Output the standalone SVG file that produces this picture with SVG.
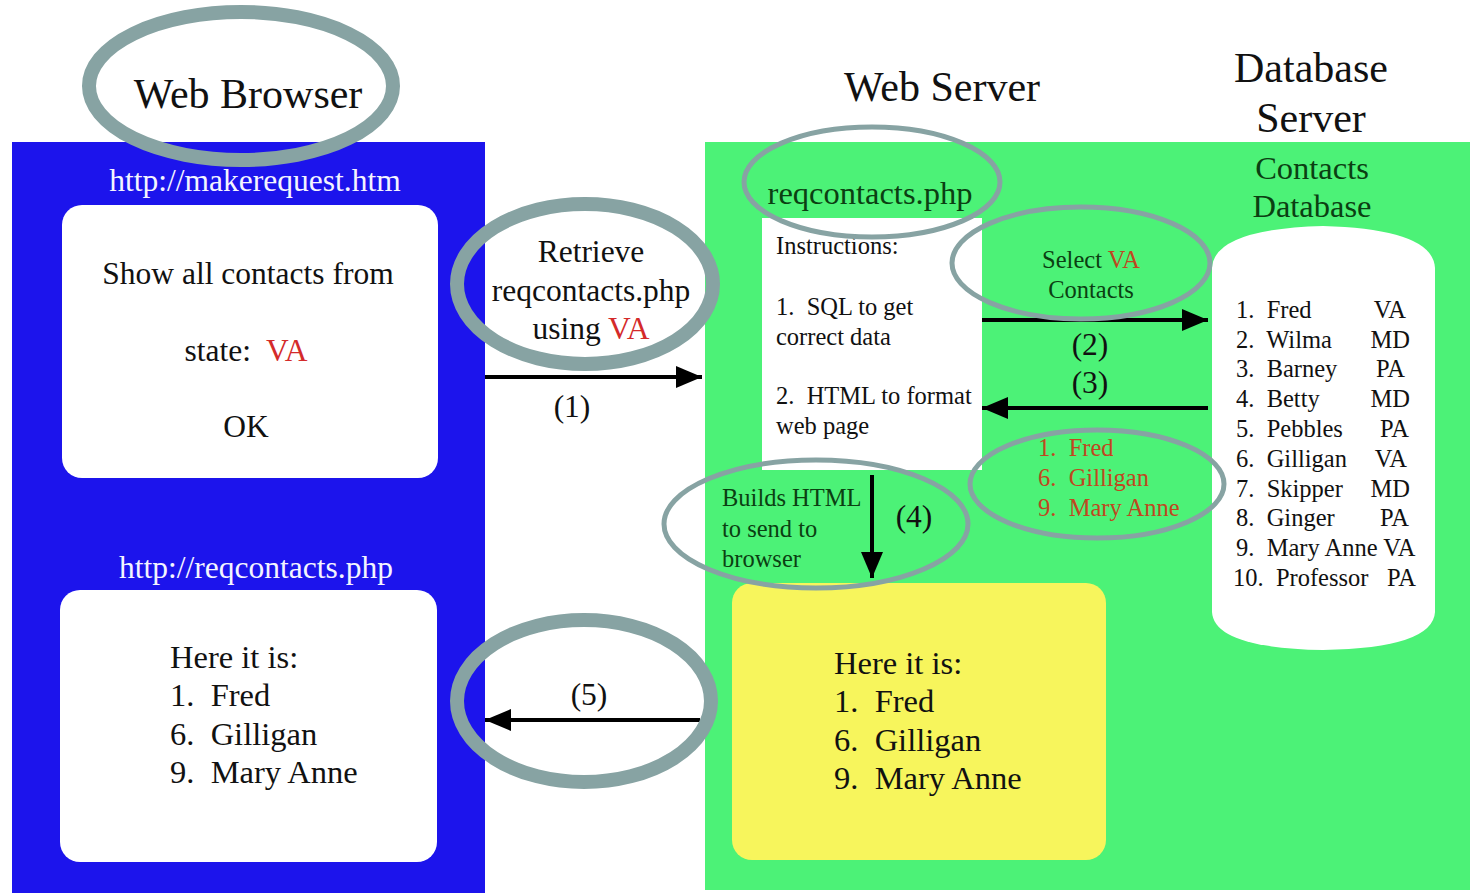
<svg xmlns="http://www.w3.org/2000/svg" width="1472" height="893" viewBox="0 0 1472 893">
<style>
text{font-family:"Liberation Serif","Times New Roman",serif;fill:#111}
.t40{font-size:42px}
.t30{font-size:32.5px}
.t29{font-size:31.5px}
.t23{font-size:24.5px}
.wh{fill:#f4f4ff}
.dg{fill:#0b3f12}
.red{fill:#d42a2a}
.or{fill:#c0471f}
.c{text-anchor:middle}
.ring{fill:none;stroke:#87a3a3}
.thick{stroke-width:14}
.thin{stroke-width:5}
.arr{stroke:#000;stroke-width:4;fill:none}
</style>
<defs>
<marker id="ah" viewBox="0 0 26 22" refX="26" refY="11" markerWidth="26" markerHeight="22" markerUnits="userSpaceOnUse" orient="auto">
<path d="M0,0 L26,11 L0,22 Z" fill="#000"/>
</marker>
</defs>
<rect width="1472" height="893" fill="#fff"/>

<g id="browser-panel">
<rect x="12" y="142" width="473" height="751" fill="#1c14ec"/>
<text class="t29 wh c" x="255" y="191">http://makerequest.htm</text>
<text class="t29 wh c" x="256" y="578">http://reqcontacts.php</text>
</g>
<g id="request-page">
<rect x="62" y="205" width="376" height="273" rx="20" fill="#fff"/>
<text class="t29 c" x="248" y="284">Show all contacts from</text>
<text class="t29 c" x="246" y="361">state:&#160; <tspan class="red">VA</tspan></text>
<text class="t29 c" x="246" y="437">OK</text>
</g>
<g id="result-page">
<rect x="60" y="590" width="377" height="272" rx="20" fill="#fff"/>
<text class="t30" x="170" y="668">Here it is:</text>
<text class="t30" x="170" y="706">1.&#160; Fred</text>
<text class="t30" x="170" y="745">6.&#160; Gilligan</text>
<text class="t30" x="170" y="783">9.&#160; Mary Anne</text>
</g>

<g id="server-panel">
<rect x="705" y="142" width="765" height="748" fill="#4cf277"/>
</g>
<g id="titles">
<text class="t40 c" x="942" y="101">Web Server</text>
<text class="t40 c" x="1311" y="82">Database</text>
<text class="t40 c" x="1311" y="132">Server</text>
<text class="t30 dg c" x="1312" y="179">Contacts</text>
<text class="t30 dg c" x="1312" y="217">Database</text>
</g>
<g id="php-label">
<text class="t30 dg c" x="870" y="204">reqcontacts.php</text>
</g>
<g id="instructions">
<rect x="762" y="218" width="220" height="252" fill="#fff"/>
<text class="t23" x="776" y="254">Instructions:</text>
<text class="t23" x="776" y="315">1.&#160; SQL to get</text>
<text class="t23" x="776" y="345">correct data</text>
<text class="t23" x="776" y="404">2.&#160; HTML to format</text>
<text class="t23" x="776" y="434">web page</text>
</g>
<g id="select-label">
<text class="t23 dg c" x="1091" y="268">Select <tspan class="or">VA</tspan></text>
<text class="t23 dg c" x="1091" y="298">Contacts</text>
</g>
<g id="selected-list">
<text class="t23 or" x="1038" y="456">1.&#160; Fred</text>
<text class="t23 or" x="1038" y="486">6.&#160; Gilligan</text>
<text class="t23 or" x="1038" y="516">9.&#160; Mary Anne</text>
</g>
<g id="builds-label">
<text class="t23 dg" x="722" y="506">Builds HTML</text>
<text class="t23 dg" x="722" y="537">to send to</text>
<text class="t23 dg" x="722" y="567">browser</text>
</g>
<g id="database">
<path d="M1212,268 Q1214,229 1323,226 Q1433,229 1435,268 L1435,612 Q1433,648 1323,650 Q1214,648 1212,612 Z" fill="#fff"/>
<g class="t23">
<text x="1236" y="318">1.&#160; Fred</text><text x="1406" y="318" text-anchor="end">VA</text>
<text x="1236" y="348">2.&#160; Wilma</text><text x="1410" y="348" text-anchor="end">MD</text>
<text x="1236" y="377">3.&#160; Barney</text><text x="1405" y="377" text-anchor="end">PA</text>
<text x="1236" y="407">4.&#160; Betty</text><text x="1410" y="407" text-anchor="end">MD</text>
<text x="1236" y="437">5.&#160; Pebbles</text><text x="1409" y="437" text-anchor="end">PA</text>
<text x="1236" y="467">6.&#160; Gilligan</text><text x="1407" y="467" text-anchor="end">VA</text>
<text x="1236" y="497">7.&#160; Skipper</text><text x="1410" y="497" text-anchor="end">MD</text>
<text x="1236" y="526">8.&#160; Ginger</text><text x="1409" y="526" text-anchor="end">PA</text>
<text x="1236" y="556">9.&#160; Mary Anne VA</text>
<text x="1233" y="586">10.&#160; Professor</text><text x="1416" y="586" text-anchor="end">PA</text>
</g>
</g>
<g id="output-page">
<rect x="732" y="583" width="374" height="277" rx="20" fill="#f7f55c"/>
<text class="t30" x="834" y="674">Here it is:</text>
<text class="t30" x="834" y="712">1.&#160; Fred</text>
<text class="t30" x="834" y="751">6.&#160; Gilligan</text>
<text class="t30" x="834" y="789">9.&#160; Mary Anne</text>
</g>
<g id="retrieve-label">
<text class="t29 c" x="591" y="262">Retrieve</text>
<text class="t29 c" x="591" y="301">reqcontacts.php</text>
<text class="t29 c" x="591" y="339">using <tspan class="red">VA</tspan></text>
</g>

<g id="connectors">
<line class="arr" x1="485" y1="377" x2="702" y2="377" marker-end="url(#ah)"/>
<text class="t29 c" x="572" y="417">(1)</text>
<line class="arr" x1="982" y1="320" x2="1208" y2="320" marker-end="url(#ah)"/>
<text class="t29 c" x="1090" y="355">(2)</text>
<text class="t29 c" x="1090" y="393">(3)</text>
<line class="arr" x1="1208" y1="408" x2="982" y2="408" marker-end="url(#ah)"/>
<line class="arr" x1="872" y1="475" x2="872" y2="578" marker-end="url(#ah)"/>
<text class="t29 c" x="914" y="527">(4)</text>
<line class="arr" x1="700" y1="720" x2="485" y2="720" marker-end="url(#ah)"/>
<text class="t29 c" x="589" y="705">(5)</text>
</g>

<g id="web-browser-title">
<text class="t40 c" x="248" y="108">Web Browser</text>
</g>
<g id="highlights">
<ellipse class="ring thick" cx="241" cy="86" rx="152" ry="74"/>
<ellipse class="ring thick" cx="585" cy="284" rx="128" ry="80"/>
<ellipse class="ring thick" cx="584" cy="701" rx="127" ry="81"/>
<ellipse class="ring thin" cx="872" cy="182" rx="128" ry="55"/>
<ellipse class="ring thin" cx="1081" cy="263" rx="129" ry="56"/>
<ellipse class="ring thin" cx="1097" cy="484" rx="127" ry="54"/>
<ellipse class="ring thin" cx="816" cy="524" rx="152" ry="64"/>
</g>
</svg>
